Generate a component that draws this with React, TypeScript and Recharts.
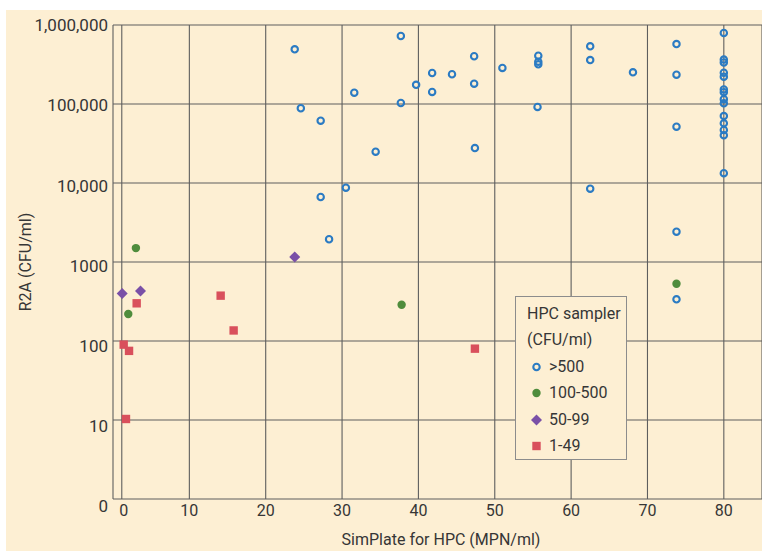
import { ScatterChart, Scatter, XAxis, YAxis, CartesianGrid, Legend } from "recharts";

const BG = "#fdefd3";
const FONT = "Roboto, 'Noto Sans', sans-serif";
const INK = "#363636";

// the "0" gridline of the original sits a little right of the true origin
const xTicks = [1.15, 10, 20, 30, 40, 50, 60, 70, 80];
const xTickLabels = ["0", "10", "20", "30", "40", "50", "60", "70", "80"];
const yTicks = [1, 10, 100, 1000, 10000, 100000, 1000000];
const yTickLabels = ["0", "10", "100", "1000", "10,000", "100,000", "1,000,000"];

// [SimPlate, R2A]
const over500: [number, number][] = [
  [23.8, 492000], [24.6, 88300], [27.2, 61500], [31.6, 139000], [37.7, 726000],
  [37.7, 103000], [34.4, 24900], [30.5, 8730], [27.2, 6650], [28.3, 1940],
  [47.3, 402000], [41.8, 247000], [44.4, 238000], [39.7, 175000], [41.8, 142000],
  [47.3, 181000], [51.0, 286000], [55.7, 408000], [55.7, 343000], [55.7, 318000],
  [55.6, 91700], [47.4, 27700], [62.5, 537000], [62.5, 360000], [68.1, 252000],
  [73.8, 574000], [73.8, 235000], [73.8, 51600], [62.5, 8470], [73.8, 2420],
  [73.8, 337],
  [80, 792000], [80, 365000], [80, 335000], [80, 249000], [80, 222000],
  [80, 153000], [80, 141000], [80, 115000], [80, 102000], [80, 70400],
  [80, 57000], [80, 46900], [80, 40100], [80, 13300],
];
const from100to500: [number, number][] = [[3.0, 1500], [2.0, 220], [37.8, 288], [73.8, 531]];
const from50to99: [number, number][] = [[1.2, 400], [3.6, 430], [23.8, 1160]];
const from1to49: [number, number][] = [
  [3.1, 300], [1.4, 90], [2.1, 75], [1.7, 10.3], [14.1, 375], [15.8, 136], [47.4, 80],
];

const toPoints = (arr: [number, number][]) => arr.map(([x, y]) => ({ x, y }));

const BLUE = "#2b7bc3";
const GREEN = "#4f8c3c";
const PURPLE = "#7a50a7";
const RED = "#d9505c";

const OpenCircle = (p: any) => (
  <circle cx={p.cx} cy={p.cy} r={3.2} fill="none" stroke={BLUE} strokeWidth={2.1} />
);
const Dot = (p: any) => <circle cx={p.cx} cy={p.cy} r={4.2} fill={GREEN} />;
const Diamond = (p: any) => {
  const s = 5.5;
  return (
    <polygon
      points={`${p.cx},${p.cy - s} ${p.cx + s},${p.cy} ${p.cx},${p.cy + s} ${p.cx - s},${p.cy}`}
      fill={PURPLE}
    />
  );
};
const Square = (p: any) => (
  <rect x={p.cx - 4.2} y={p.cy - 4.2} width={8.4} height={8.4} fill={RED} />
);

const series = [
  { name: ">500", data: over500, shape: OpenCircle },
  { name: "100-500", data: from100to500, shape: Dot },
  { name: "50-99", data: from50to99, shape: Diamond },
  { name: "1-49", data: from1to49, shape: Square },
];

const YTick = (props: any) => {
  const v = props.payload.value;
  const i = yTicks.indexOf(v);
  const drift = (6 - Math.log10(v)) * 1.2;
  return (
    <text x={props.x} y={props.y + drift} dy="0.36em" textAnchor="end" fill={INK} fontSize={17} fontFamily={FONT}>
      {yTickLabels[i]}
    </text>
  );
};

const XTick = (props: any) => {
  const i = xTicks.indexOf(props.payload.value);
  return (
    <text x={props.x + (i === 0 ? 2 : 0)} y={props.y} dy="0.36em" textAnchor="middle" fill={INK} fontSize={16} fontFamily={FONT}>
      {xTickLabels[i]}
    </text>
  );
};

const renderLegend = () => (
  <div
    style={{
      width: 112,
      height: 164,
      boxSizing: "border-box",
      border: "1px solid #8c8c8c",
      background: BG,
      fontFamily: FONT,
      fontSize: 16,
      color: INK,
      paddingTop: 4,
      lineHeight: "26.4px",
    }}
  >
    <div style={{ paddingLeft: 11 }}>HPC sampler</div>
    <div style={{ paddingLeft: 11 }}>(CFU/ml)</div>
    {series.map((s) => {
      const Shape = s.shape;
      return (
        <div key={s.name} style={{ display: "flex", alignItems: "center", height: 26.4 }}>
          <svg width={33} height={14} style={{ flex: "none" }}>
            <Shape cx={20.5} cy={7} />
          </svg>
          <span>{s.name}</span>
        </div>
      );
    })}
  </div>
);

export default function App() {
  return (
    <div style={{ position: "absolute", left: 0, top: 0, width: 762, height: 551, overflow: "hidden", background: "#fff" }}>
      <div style={{ position: "absolute", left: 6, top: 10, right: 0, bottom: 0, background: BG }} />
      <div style={{ position: "absolute", left: 0, top: 0 }}>
        <ScatterChart width={762} height={551} margin={{ top: 25, right: 0, bottom: 0, left: 0 }}>
          <CartesianGrid stroke="#5e5e5e" strokeWidth={1.1} />
          <XAxis
            type="number"
            dataKey="x"
            domain={[0, 85]}
            ticks={xTicks}
            interval={0}
            height={52}
            axisLine={false}
            tickLine={false}
            tickSize={0}
            tickMargin={11}
            tick={<XTick />}
            label={() => (
              <text x={441} y={545} textAnchor="middle" fill={INK} fontSize={16} fontFamily={FONT}>
                SimPlate for HPC (MPN/ml)
              </text>
            )}
          />
          <YAxis
            type="number"
            dataKey="y"
            scale="log"
            domain={[1, 1000000]}
            allowDataOverflow
            ticks={yTicks}
            interval={0}
            width={113}
            axisLine={false}
            tickLine={false}
            tickSize={0}
            tickMargin={5}
            tick={<YTick />}
            label={() => (
              <text
                transform="translate(25,262) rotate(-90)"
                dy="0.36em"
                textAnchor="middle"
                fill={INK}
                fontSize={16}
                fontFamily={FONT}
              >
                R2A (CFU/ml)
              </text>
            )}
          />
          <Legend
            content={renderLegend}
            layout="vertical"
            align="center"
            verticalAlign="middle"
            wrapperStyle={{ left: 515, top: 296, width: 112, height: 164 }}
          />
          {series.map((s) => (
            <Scatter
              key={s.name}
              name={s.name}
              data={toPoints(s.data)}
              shape={s.shape}
              isAnimationActive={false}
            />
          ))}
        </ScatterChart>
      </div>
    </div>
  );
}
